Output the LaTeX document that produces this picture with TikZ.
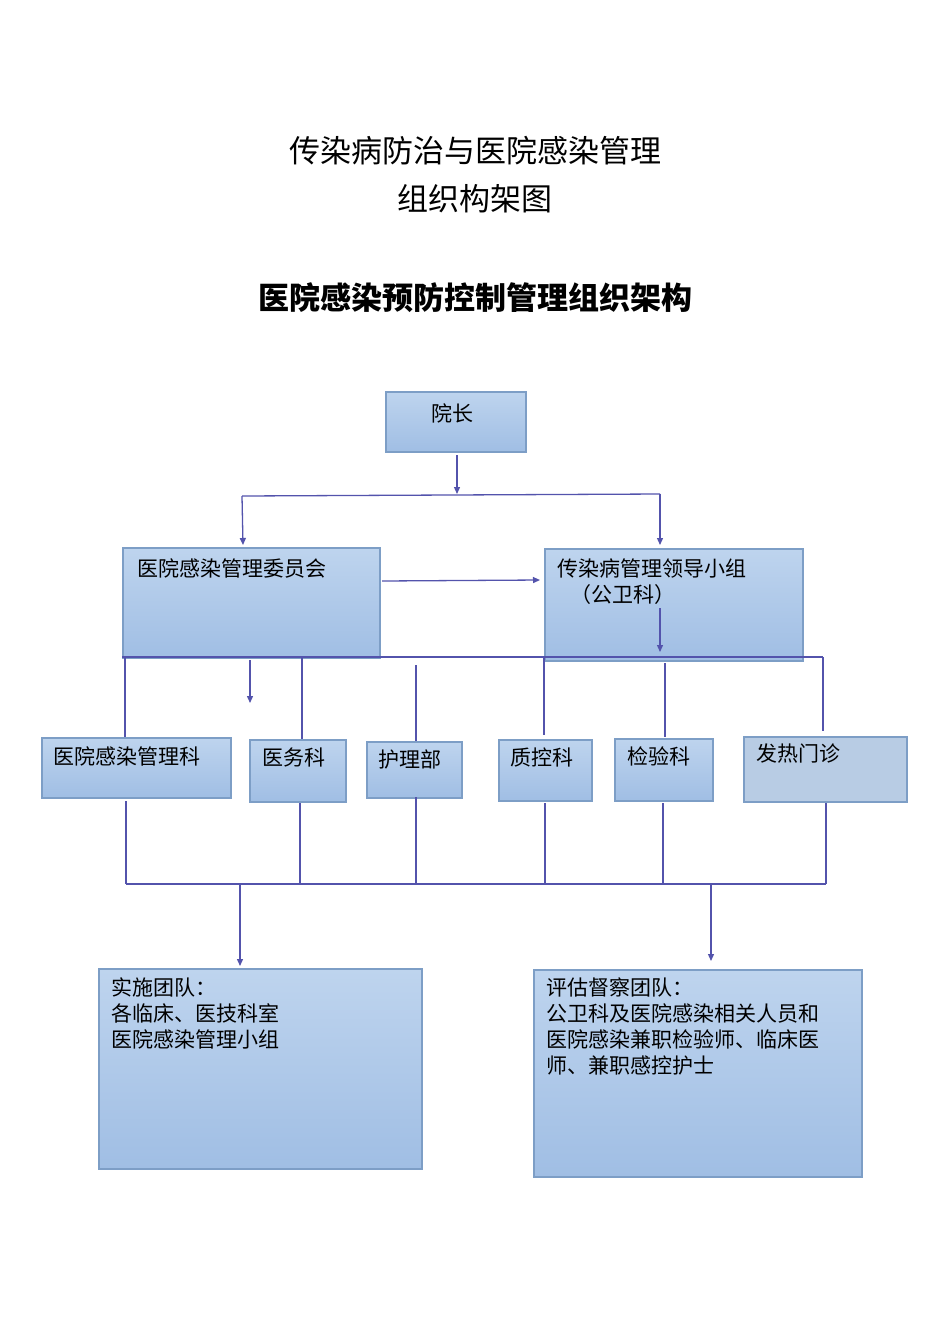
\documentclass[tikz,border=0pt]{standalone}
\usepackage{fontspec}
\newfontfamily\cjk{Noto Sans CJK SC}
\newfontfamily\cjkl{Noto Sans CJK SC Light}
\usetikzlibrary{arrows.meta}
\begin{document}
\begin{tikzpicture}[x=1pt,y=-1pt,
  box/.style={draw=blue!30!gray!80,line width=1.5pt,top color=blue!12!cyan!8!white!80!blue!20,bottom color=blue!45!cyan!25!white!80,shading angle=0,anchor=north west,inner sep=0pt},
  lbl/.style={anchor=north west,align=left,font=\fontsize{21}{26}\selectfont\cjk,inner sep=0pt},
  ln/.style={draw=blue!35!gray,line width=1.3pt},
  ar/.style={ln,-{Triangle[length=7pt,width=6pt]}}]
\useasboundingbox (0,0) rectangle (950,1344);
\tikzset{box/.append style={top color={rgb,255:red,190;green,212;blue,238},bottom color={rgb,255:red,160;green,190;blue,228},draw={rgb,255:red,125;green,158;blue,198}}}
\node[font=\fontsize{31}{48}\selectfont\cjk,align=center] (t1) at (475,175) {传染病防治与医院感染管理\\组织构架图};
\node[font=\fontsize{31}{36}\selectfont\cjk\bfseries] (t2) at (475,298) {医院感染预防控制管理组织架构};
\node[box,minimum width=140,minimum height=60] (yz) at (385,391) {};
\node[lbl] (yzl) at (431,403) {院长};
\node[box,minimum width=257,minimum height=110] (wy) at (122,547) {};
\node[lbl] (wyl) at (137,558) {医院感染管理委员会};
\node[box,minimum width=258,minimum height=112] (cr) at (544,548) {};
\node[lbl] (crl) at (557,559) {传染病管理领导小组\\\hspace*{13pt}（公卫科）};
\node[box,minimum width=189,minimum height=60] (gk) at (41,737) {};
\node[lbl] (gkl) at (53,746) {医院感染管理科};
\node[box,minimum width=96,minimum height=62] (yw) at (249,739) {};
\node[lbl] (ywl) at (262,748) {医务科};
\node[box,minimum width=95,minimum height=56] (hl) at (366,741) {};
\node[lbl] (hll) at (378,750) {护理部};
\node[box,minimum width=93,minimum height=61] (zk) at (498,739) {};
\node[lbl] (zkl) at (510,748) {质控科};
\node[box,minimum width=98,minimum height=62] (jy) at (614,738) {};
\node[lbl] (jyl) at (627,747) {检验科};
\node[box,minimum width=163,minimum height=65,top color={rgb,255:red,184;green,204;blue,228},bottom color={rgb,255:red,184;green,204;blue,228}] (fr) at (743,736) {};
\node[lbl] (frl) at (756,744) {发热门诊};
\node[box,minimum width=323,minimum height=200] (ss) at (98,968) {};
\node[lbl] (ssl) at (111,977) {实施团队：\\各临床、医技科室\\医院感染管理小组};
\node[box,minimum width=328,minimum height=207] (pg) at (533,969) {};
\node[lbl] (pgl) at (546,978) {评估督察团队：\\公卫科及医院感染相关人员和\\医院感染兼职检验师、临床医\\师、兼职感控护士};
% top connectors
\coordinate (a0) at (457,455); \coordinate (a1) at (457,494);
\coordinate (h1) at (242,496); \coordinate (h2) at (660,494);
\coordinate (b1) at (243,545); \coordinate (b2) at (660,545);
\draw[ar] (a0) -- (a1);
\draw[ln] (h1) -- (h2);
\draw[ar] (h1) -- (b1);
\draw[ar] (h2) -- (b2);
\coordinate (m0) at (382,581); \coordinate (m1) at (540,580);
\draw[ar] (m0) -- (m1);
\coordinate (i0) at (660,608); \coordinate (i1) at (660,652);
\draw[ar] (i0) -- (i1);
% middle bus
\coordinate (L) at (122,657); \coordinate (R) at (823,657);
\draw[ln] (L) -- (R);
\draw[ln] (125,657) -- (gk.north -| 125,0);
\draw[ar] (250,660) -- (250,703);
\draw[ln] (302,657) -- (302,739);
\draw[ln] (416,665) -- (416,741);
\draw[ln] (544,657) -- (544,735);
\draw[ln] (665,663) -- (665,737);
\draw[ln] (823,657) -- (823,731);
% bottom bus
\draw[ln] (126,801) -- (126,884);
\draw[ln] (300,803) -- (300,884);
\draw[ln] (416,797) -- (416,884);
\draw[ln] (545,803) -- (545,884);
\draw[ln] (663,803) -- (663,884);
\draw[ln] (826,803) -- (826,884);
\coordinate (B1) at (126,884); \coordinate (B2) at (826,884);
\draw[ln] (B1) -- (B2);
\draw[ar] (240,884) -- (240,966);
\draw[ar] (711,884) -- (711,961);
\end{tikzpicture}
\end{document}
